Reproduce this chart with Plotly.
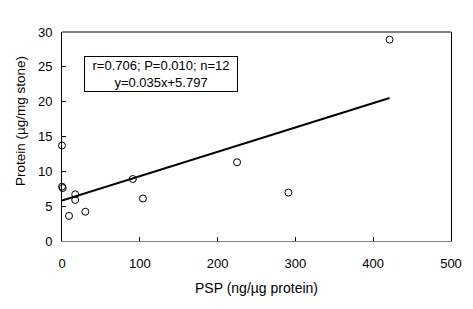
import plotly.graph_objects as go

# Data
psp = [0, 0, 1, 9, 17, 17, 30, 91, 104, 225, 291, 421]
protein = [13.7, 7.8, 7.6, 3.6, 6.7, 5.9, 4.2, 8.9, 6.1, 11.3, 6.95, 28.9]
slope = 0.035
intercept = 5.797
fit_x = [0, 421]
fit_y = [slope * v + intercept for v in fit_x]
stats_line1 = "r=0.706; P=0.010; n=12"
stats_line2 = "y=0.035x+5.797"

FONT = "Arial, 'Liberation Sans', sans-serif"

fig = go.Figure()
fig.add_trace(go.Scatter(x=fit_x, y=fit_y, mode="lines",
                         line=dict(color="black", width=2), showlegend=False))
fig.add_trace(go.Scatter(x=psp, y=protein, mode="markers",
                         marker=dict(symbol="circle-open", size=7, color="black",
                                     line=dict(width=1, color="black")),
                         showlegend=False, cliponaxis=False))

fig.update_layout(
    width=473, height=309,
    margin=dict(l=62, r=22, t=32, b=68),
    paper_bgcolor="white", plot_bgcolor="white",
    font=dict(family=FONT, size=13, color="black"),
    xaxis=dict(range=[0, 500], tickvals=[0, 100, 200, 300, 400, 500],
               showgrid=False, zeroline=False, showline=True, linecolor="#808080",
               linewidth=1, ticks="inside", ticklen=4, tickcolor="black",
               ticklabelstandoff=10, tickfont=dict(size=13)),
    yaxis=dict(range=[0, 30], tickvals=[0, 5, 10, 15, 20, 25, 30],
               showgrid=False, zeroline=False, showline=True, linecolor="black",
               linewidth=1, mirror=True, ticks="inside", ticklen=4, tickcolor="black",
               ticklabelstandoff=6, tickfont=dict(size=13)),
    shapes=[
        dict(type="line", xref="paper", yref="paper", x0=0, x1=1, y0=1, y1=1,
             line=dict(color="black", width=1)),
    ],
    annotations=[
        dict(text=stats_line1 + "<br>" + stats_line2, xref="paper", yref="paper",
             x=0.2545, y=0.80, showarrow=False, xanchor="center", yanchor="middle",
             align="center", font=dict(size=13), bordercolor="black", borderwidth=1,
             borderpad=1, bgcolor="white", width=150),
        dict(text="PSP (ng/µg protein)", xref="paper", yref="paper", x=0.5, y=-0.225,
             showarrow=False, xanchor="center", yanchor="middle", font=dict(size=14)),
        dict(text="Protein (µg/mg stone)", xref="paper", yref="paper", x=-0.108, y=0.574,
             showarrow=False, xanchor="center", yanchor="middle", textangle=-90,
             font=dict(size=13.5)),
    ],
)

fig.write_html("out.html")
